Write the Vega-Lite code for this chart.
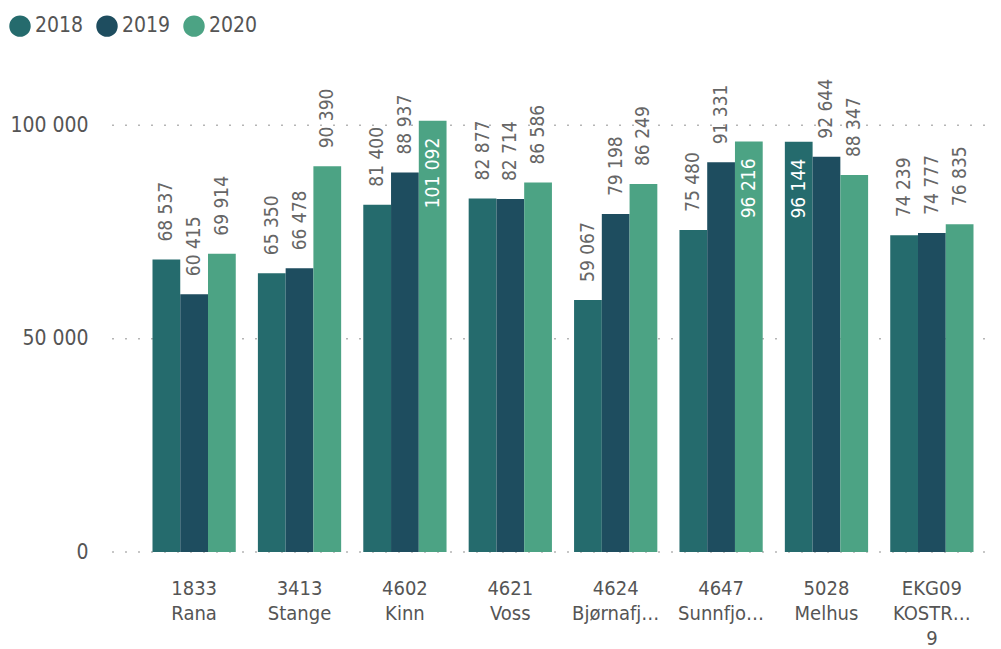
{
  "$schema": "https://vega.github.io/schema/vega-lite/v6.json",
  "autosize": {"type": "none"},
  "width": 875,
  "height": 512,
  "padding": {"left": 110, "top": 40, "right": 16, "bottom": 97},
  "background": "white",
  "config": {
    "view": {"stroke": null},
    "font": "DejaVu Sans Condensed",
    "locale": {"number": {"decimal": ",", "thousands": " ", "grouping": [3], "currency": ["", ""]}}
  },
  "datasets": {
    "grid": [{"g": 0}, {"g": 50000}, {"g": 100000}],
    "main": [
      {"kommune": "1833|Rana", "year": "2018", "value": 68537},
      {"kommune": "1833|Rana", "year": "2019", "value": 60415},
      {"kommune": "1833|Rana", "year": "2020", "value": 69914},
      {"kommune": "3413|Stange", "year": "2018", "value": 65350},
      {"kommune": "3413|Stange", "year": "2019", "value": 66478},
      {"kommune": "3413|Stange", "year": "2020", "value": 90390},
      {"kommune": "4602|Kinn", "year": "2018", "value": 81400},
      {"kommune": "4602|Kinn", "year": "2019", "value": 88937},
      {"kommune": "4602|Kinn", "year": "2020", "value": 101092},
      {"kommune": "4621|Voss", "year": "2018", "value": 82877},
      {"kommune": "4621|Voss", "year": "2019", "value": 82714},
      {"kommune": "4621|Voss", "year": "2020", "value": 86586},
      {"kommune": "4624|Bjørnafj…", "year": "2018", "value": 59067},
      {"kommune": "4624|Bjørnafj…", "year": "2019", "value": 79198},
      {"kommune": "4624|Bjørnafj…", "year": "2020", "value": 86249},
      {"kommune": "4647|Sunnfjo…", "year": "2018", "value": 75480},
      {"kommune": "4647|Sunnfjo…", "year": "2019", "value": 91331},
      {"kommune": "4647|Sunnfjo…", "year": "2020", "value": 96216},
      {"kommune": "5028|Melhus", "year": "2018", "value": 96144},
      {"kommune": "5028|Melhus", "year": "2019", "value": 92644},
      {"kommune": "5028|Melhus", "year": "2020", "value": 88347},
      {"kommune": "EKG09|KOSTR…|9", "year": "2018", "value": 74239},
      {"kommune": "EKG09|KOSTR…|9", "year": "2019", "value": 74777},
      {"kommune": "EKG09|KOSTR…|9", "year": "2020", "value": 76835}
    ]
  },
  "layer": [
    {
      "data": {"name": "grid"},
      "mark": {"type": "rule", "color": "#b5b5b5", "strokeDash": [2, 11], "strokeWidth": 1.5},
      "encoding": {
        "y": {
          "field": "g", "type": "quantitative", "title": null,
          "scale": {"domain": [0, 120000], "nice": false},
          "axis": {
            "values": [0, 50000, 100000], "format": ",d", "grid": false,
            "domain": false, "ticks": false,
            "labelFontSize": 21, "labelColor": "#555555", "labelPadding": 22
          }
        }
      }
    },
    {
      "data": {"name": "main"},
      "encoding": {
        "x": {
          "field": "kommune", "type": "nominal", "sort": null, "title": null,
          "scale": {"paddingInner": 0.21, "paddingOuter": 0, "range": [42.5, 863.5]},
          "axis": {
            "labelAngle": 0, "domain": false, "ticks": false, "grid": false,
            "labelExpr": "split(datum.label, '|')",
            "labelFontSize": 20, "labelColor": "#555555", "labelPadding": 26,
            "labelLineHeight": 25, "labelBaseline": "top"
          }
        },
        "xOffset": {"field": "year", "type": "nominal", "scale": {"paddingInner": 0}},
        "y": {"field": "value", "type": "quantitative"}
      },
      "layer": [
        {
          "mark": {"type": "bar"},
          "encoding": {
            "color": {
              "field": "year", "type": "nominal", "title": null,
              "scale": {"domain": ["2018", "2019", "2020"], "range": ["#256B6D", "#1E4D5F", "#4CA384"]},
              "legend": {
                "orient": "none", "direction": "horizontal", "legendX": -101, "legendY": -25,
                "symbolType": "circle", "symbolSize": 460, "symbolStrokeWidth": 0, "symbolOpacity": 1,
                "labelFontSize": 21, "labelColor": "#555555", "labelOffset": 4, "columnPadding": 12
              }
            }
          }
        },
        {
          "transform": [{"filter": "datum.value < 95000"}],
          "mark": {"type": "text", "angle": 270, "align": "left", "baseline": "middle", "dx": 18, "fontSize": 19, "color": "#666666"},
          "encoding": {"text": {"field": "value", "type": "quantitative", "format": ",d"}}
        },
        {
          "transform": [{"filter": "datum.value >= 95000"}],
          "mark": {"type": "text", "angle": 270, "align": "right", "baseline": "middle", "dx": -17, "fontSize": 19, "color": "#ffffff"},
          "encoding": {"text": {"field": "value", "type": "quantitative", "format": ",d"}}
        }
      ]
    }
  ]
}
